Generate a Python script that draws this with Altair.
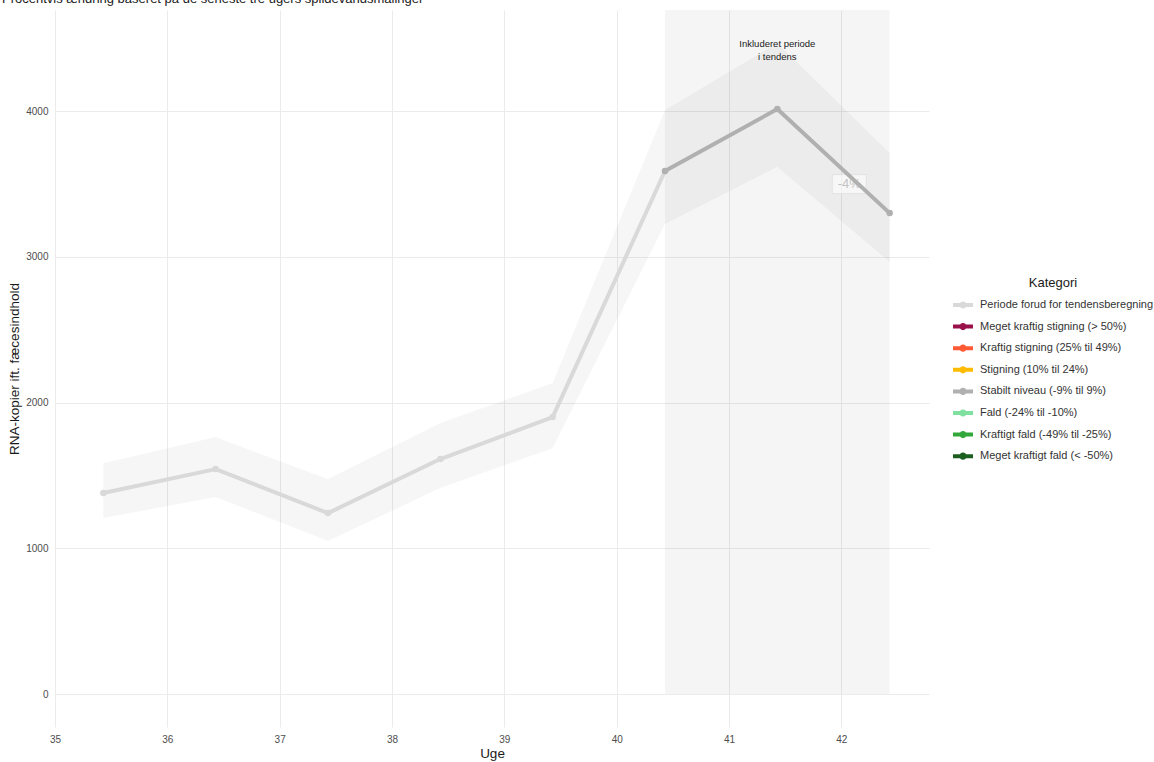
import altair as alt
import pandas as pd

# Weekly wastewater measurements (week number with in-week offset)
weeks = [35.43, 36.43, 37.43, 38.43, 39.43, 40.43, 41.43, 42.43]
values = [1380, 1544, 1242, 1613, 1901, 3590, 4015, 3301]
lower = [1208, 1352, 1050, 1414, 1688, 3226, 3617, 2965]
upper = [1585, 1764, 1476, 1860, 2135, 4008, 4468, 3713]

categories = [
    "Periode forud for tendensberegning",
    "Meget kraftig stigning (> 50%)",
    "Kraftig stigning (25% til 49%)",
    "Stigning (10% til 24%)",
    "Stabilt niveau (-9% til 9%)",
    "Fald (-24% til -10%)",
    "Kraftigt fald (-49% til -25%)",
    "Meget kraftigt fald (< -50%)",
]
category_colors = ["#d9d9d9", "#99114a", "#ff5a36", "#ffbb00", "#b0b0b0",
                   "#7fe0a0", "#33a83a", "#1b5e20"]

# Which category each week belongs to (last three weeks form the trend period)
point_category = [categories[0]] * 5 + [categories[4]] * 3
trend_start, trend_end = 40.43, 42.43
trend_label = "-4%"
trend_label_x, trend_label_y = 42.07, 3500
note_text = ["Inkluderet periode", "i tendens"]
note_x, note_y = 41.43, 4465

x_domain = [35, 42.78]
y_domain = [-226, 4695]
title_text = "Procentvis ændring baseret på de seneste tre ugers spildevandsmålinger"

FONT = "Liberation Sans"

points = pd.DataFrame({"uge": weeks, "v": values, "lo": lower, "hi": upper,
                       "kategori": point_category})

# Line segments: the pre-period runs up to and including the first trend week
pre_idx = list(range(0, 6))
trend_idx = list(range(5, 8))
lines = pd.DataFrame({
    "uge": [weeks[i] for i in pre_idx] + [weeks[i] for i in trend_idx],
    "v": [values[i] for i in pre_idx] + [values[i] for i in trend_idx],
    "kategori": [categories[0]] * len(pre_idx) + [categories[4]] * len(trend_idx),
})
used = [categories[0], categories[4]]
used_colors = [category_colors[0], category_colors[4]]

period = pd.DataFrame({"x": [trend_start], "x2": [trend_end], "y": [0], "y2": [y_domain[1]]})
label_df = pd.DataFrame({"x": [trend_label_x], "y": [trend_label_y], "t": [trend_label]})
note_df = pd.DataFrame({"x": [note_x], "y": [note_y], "t": [note_text]})
title_df = pd.DataFrame({"t": [title_text]})

xs = alt.Scale(domain=x_domain, nice=False, zero=False)
ys = alt.Scale(domain=y_domain, nice=False, zero=False)

x_axis = alt.Axis(values=list(range(35, 43)), format="d", title="Uge",
                  titleY=19, titleBaseline="top", labelFlush=False)
y_axis = alt.Axis(values=[0, 1000, 2000, 3000, 4000], format="d",
                  title="RNA-kopier ift. fæcesindhold", titleX=-34, labelFlush=False)

legend_symbol = ("M-1,-0.2H1V0.2H-1Z "
                 "M0.36,0A0.36,0.36 0 1,1 -0.36,0A0.36,0.36 0 1,1 0.36,0Z")

rect = alt.Chart(period).mark_rect(color="#000000", opacity=0.04).encode(
    x=alt.X("x:Q", scale=xs, axis=x_axis), x2="x2:Q",
    y=alt.Y("y:Q", scale=ys, axis=y_axis), y2="y2:Q",
)

ribbon = alt.Chart(points).mark_area(color="#000000", opacity=0.035).encode(
    x=alt.X("uge:Q", scale=xs), y=alt.Y("lo:Q", scale=ys), y2="hi:Q",
)

label_box = alt.Chart(label_df).mark_point(
    shape="M-1,-0.56H1V0.56H-1Z", size=1156, filled=True, fill="#ffffff",
    fillOpacity=0.6, stroke="#e2e2e2", strokeWidth=1, opacity=1,
).encode(x=alt.X("x:Q", scale=xs), y=alt.Y("y:Q", scale=ys))

label_text = alt.Chart(label_df).mark_text(
    font=FONT, fontSize=13, color="#c4c4c4", baseline="middle", align="center",
).encode(x=alt.X("x:Q", scale=xs), y=alt.Y("y:Q", scale=ys), text="t:N")

# Line stroke uses only the categories present, so it keeps its own scale
line = alt.Chart(lines).mark_line(strokeWidth=4, strokeCap="butt", strokeJoin="round").encode(
    x=alt.X("uge:Q", scale=xs), y=alt.Y("v:Q", scale=ys),
    stroke=alt.Stroke("kategori:N", scale=alt.Scale(domain=used, range=used_colors),
                      legend=None),
    detail="kategori:N",
)

dots = alt.Chart(points).mark_circle(size=42, opacity=1).encode(
    x=alt.X("uge:Q", scale=xs), y=alt.Y("v:Q", scale=ys),
    fill=alt.Fill("kategori:N", scale=alt.Scale(domain=categories, range=category_colors),
                  legend=alt.Legend(
                      title="Kategori", orient="none", legendX=898, legendY=267,
                      symbolType=legend_symbol, symbolSize=400, symbolStrokeWidth=0,
                      symbolOpacity=1, labelOffset=7, rowPadding=6.6, labelLimit=0,
                      titleAnchor="middle", titlePadding=5,
                  )),
)

note = alt.Chart(note_df).mark_text(
    font=FONT, fontSize=9.5, color="#1a1a1a", align="center", baseline="middle",
    lineHeight=13,
).encode(x=alt.X("x:Q", scale=xs), y=alt.Y("y:Q", scale=ys), text="t")

title = alt.Chart(title_df).mark_text(
    font=FONT, fontSize=13, color="#1a1a1a", align="left", baseline="alphabetic",
).encode(x=alt.value(-53), y=alt.value(-7), text="t:N")

chart = alt.layer(rect, ribbon, label_box, label_text, line, dots, note, title).properties(
    width=874, height=717,
    autosize=alt.AutoSizeParams(type="none"),
    padding={"left": 55, "top": 10, "right": 225, "bottom": 35},
    background="#ffffff",
).configure_view(stroke=None).configure_axis(
    domain=False, ticks=False, grid=True, gridColor="#ebebeb", gridWidth=1,
    labelFont=FONT, labelFontSize=10, labelColor="#4d4d4d", labelPadding=7,
    titleFont=FONT, titleFontSize=13.5, titleFontWeight="normal", titleColor="#1a1a1a",
).configure_legend(
    labelFont=FONT, labelFontSize=11, labelColor="#333333", padding=0,
    titleFont=FONT, titleFontSize=13, titleFontWeight="normal", titleColor="#1a1a1a",
)

chart.save("out.html", embed_options={"renderer": "svg", "actions": False})
